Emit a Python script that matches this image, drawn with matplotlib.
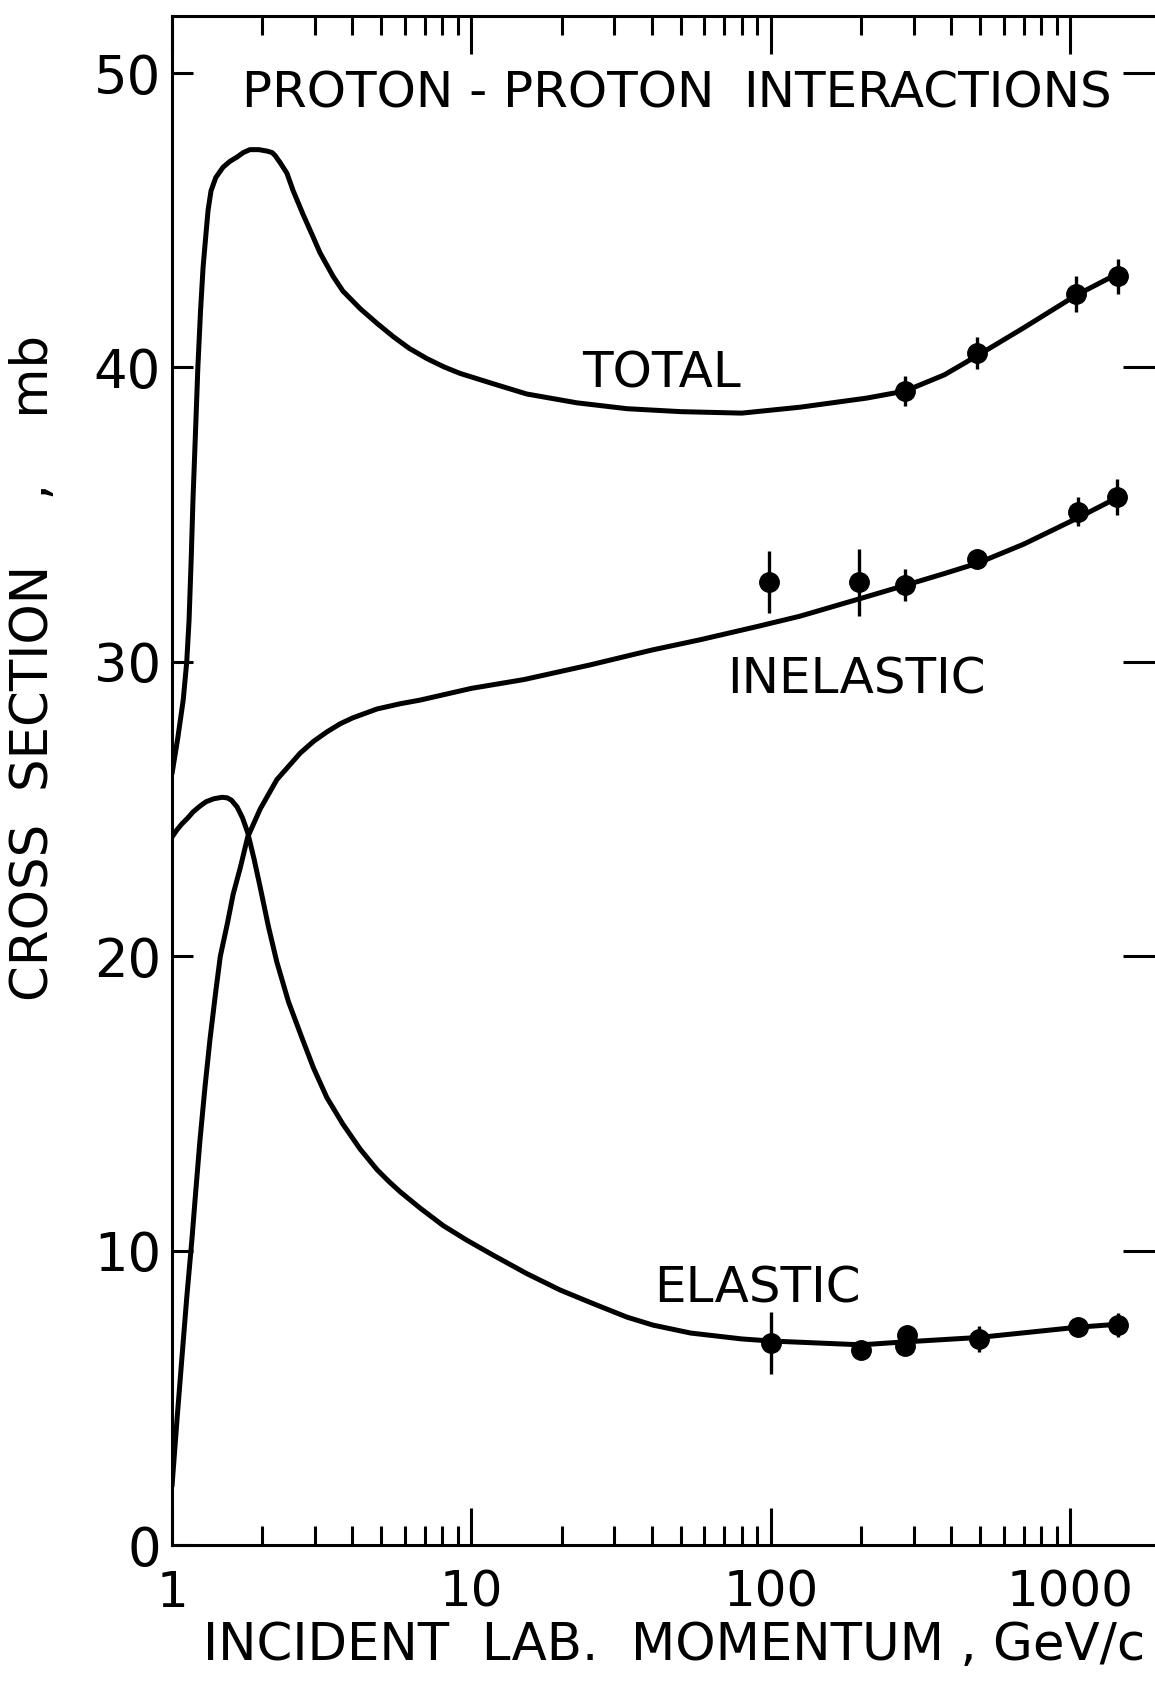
import matplotlib
matplotlib.use("Agg")
import matplotlib.pyplot as plt
from matplotlib.ticker import FixedLocator, NullFormatter, LogLocator
import numpy as np

# Smooth curves read as (momentum GeV/c, cross section mb)
total_p = [1.00, 1.045, 1.09, 1.12, 1.14, 1.16, 1.175, 1.20, 1.22, 1.245, 1.27, 1.30,
           1.32, 1.35, 1.40, 1.48, 1.56, 1.65, 1.73, 1.82, 1.95, 2.08, 2.16, 2.21,
           2.30, 2.42, 2.54, 2.74, 2.97, 3.12, 3.45, 3.72, 4.25, 4.84, 5.48, 6.2, 7.11,
           8.1, 9.16, 11.8, 15.3, 22.5, 33.1, 50, 80, 125, 209, 281, 380, 489, 700,
           1045, 1450]
total_mb = [26.2, 27.4, 28.7, 30.0, 31.4, 33.6, 35.5, 38.0, 40.0, 41.9, 43.4, 44.6,
            45.35, 46.0, 46.45, 46.8, 47.0, 47.15, 47.3, 47.4, 47.4, 47.35, 47.3, 47.2,
            46.95, 46.6, 46.0, 45.2, 44.4, 43.9, 43.1, 42.6, 42.0, 41.5, 41.05, 40.65, 40.3,
            40.02, 39.8, 39.45, 39.1, 38.8, 38.6, 38.5, 38.45, 38.65, 38.96, 39.2, 39.75,
            40.4, 41.35, 42.45, 43.2]

inel_p = [1.00, 1.04, 1.08, 1.12, 1.166, 1.20, 1.24, 1.29, 1.34, 1.40, 1.45, 1.53,
          1.60, 1.69, 1.79, 1.97, 2.24, 2.68, 2.97, 3.29, 3.65, 4.02, 4.84, 5.8, 6.73,
          10, 15, 25, 40, 58, 90, 125, 199, 281, 380, 490, 700, 1065, 1450]
inel_mb = [2.0, 4.3, 6.4, 8.4, 10.4, 12.0, 13.75, 15.6, 17.2, 18.8, 20.0, 21.1,
           22.1, 23.0, 24.05, 25.0, 26.0, 26.9, 27.3, 27.62, 27.9, 28.1, 28.4, 28.58, 28.7,
           29.1, 29.4, 29.9, 30.4, 30.75, 31.2, 31.55, 32.15, 32.6, 33.0, 33.35, 34.0,
           34.9, 35.6]

elas_p = [1.00, 1.04, 1.08, 1.13, 1.175, 1.24, 1.30, 1.38, 1.47, 1.53, 1.58, 1.65,
          1.72, 1.79, 1.88, 1.97, 2.10, 2.24, 2.45, 2.70, 2.97, 3.29, 3.72, 4.25, 4.84,
          5.3, 5.78, 6.73, 8.05, 9.67, 11.8, 15.3, 19.8, 25.5, 33.1, 40.4, 54, 80, 100,
          200, 281, 495, 1065, 1450]
elas_mb = [24.05, 24.3, 24.5, 24.7, 24.9, 25.1, 25.25, 25.35, 25.4, 25.38, 25.3, 25.07,
           24.7, 24.2, 23.3, 22.35, 21.0, 19.8, 18.45, 17.3, 16.2, 15.2, 14.3, 13.45, 12.75,
           12.35, 12.0, 11.45, 10.85, 10.35, 9.85, 9.22, 8.66, 8.2, 7.74, 7.47, 7.2, 7.0,
           6.93, 6.8, 6.9, 7.05, 7.4, 7.5]

# Measured points with vertical errors
total_pts_p = [281, 489, 1045, 1446]
total_pts_mb = [39.2, 40.5, 42.5, 43.1]
total_pts_err = [0.5, 0.55, 0.6, 0.6]

inel_pts_p = [99, 197, 281, 490, 1065, 1430]
inel_pts_mb = [32.7, 32.7, 32.6, 33.5, 35.1, 35.6]
inel_pts_err = [1.05, 1.15, 0.54, 0.0, 0.5, 0.6]

elas_pts_p = [100, 200, 281, 285, 495, 1065, 1446]
elas_pts_mb = [6.86, 6.62, 6.75, 7.15, 7.0, 7.4, 7.47]
elas_pts_err = [1.05, 0.0, 0.3, 0.3, 0.45, 0.0, 0.4]

x_ticks = [1, 10, 100, 1000]
x_tick_labels = ["1", "10", "100", "1000"]
y_ticks = [0, 10, 20, 30, 40, 50]
y_tick_labels = ["0", "10", "20", "30", "40", "50"]

W, H = 1155, 1685
RIGHT = 1165  # frame runs slightly past the page edge
plt.rcParams["font.family"] = "DejaVu Sans"


def main():
    fig = plt.figure(figsize=(W / 100, H / 100), dpi=100)
    ax = fig.add_axes([172 / W, 1 - 1545 / H, (RIGHT - 172) / W, (1545 - 16) / H])

    ax.set_xscale("log")
    ax.set_xlim(1, 10 ** ((RIGHT - 172) / 299.4))
    ax.set_ylim(0, 51.94)

    for s in ["left", "top", "bottom"]:
        ax.spines[s].set_linewidth(2.2)
    ax.spines["right"].set_visible(False)

    line_kw = dict(color="black", lw=3.6, solid_capstyle="round", solid_joinstyle="round")
    ax.plot(total_p, total_mb, **line_kw)
    ax.plot(inel_p, inel_mb, **line_kw)
    ax.plot(elas_p, elas_mb, **line_kw)

    pt_kw = dict(fmt="o", color="black", ms=14, elinewidth=2.4, capsize=0, zorder=5)
    ax.errorbar(total_pts_p, total_pts_mb, yerr=total_pts_err, **pt_kw)
    ax.errorbar(inel_pts_p, inel_pts_mb, yerr=inel_pts_err, **pt_kw)
    ax.errorbar(elas_pts_p, elas_pts_mb, yerr=elas_pts_err, **pt_kw)

    # log axis ticks, inward on top and bottom
    ax.xaxis.set_major_locator(FixedLocator(x_ticks))
    ax.set_xticklabels(x_tick_labels)
    ax.xaxis.set_minor_locator(LogLocator(base=10, subs=np.arange(2, 10)))
    ax.xaxis.set_minor_formatter(NullFormatter())
    ax.tick_params(axis="x", which="major", direction="in", length=27, width=2.2,
                   top=True, bottom=True, labelsize=36, pad=17)
    ax.tick_params(axis="x", which="minor", direction="in", length=14, width=2.2,
                   top=True, bottom=True)

    ax.yaxis.set_major_locator(FixedLocator(y_ticks))
    ax.set_yticklabels(y_tick_labels)
    ax.tick_params(axis="y", which="major", direction="in", length=15, width=2.2,
                   left=True, right=False, labelsize=38, pad=8)

    # right-hand ticks only, no spine on that side
    twin = ax.twinx()
    twin.set_ylim(ax.get_ylim())
    for s in twin.spines.values():
        s.set_visible(False)
    twin.yaxis.set_major_locator(FixedLocator(y_ticks[1:]))
    twin.tick_params(axis="y", direction="in", length=30, width=2.2,
                     right=True, left=False, labelright=False, labelleft=False)

    txt = dict(color="black", fontsize=36)
    ax.text(43.3, 39.33, "TOTAL", ha="center", va="baseline", **txt)
    ax.text(192.6, 28.94, "INELASTIC", ha="center", va="baseline", **txt)
    ax.text(89.9, 8.25, "ELASTIC", ha="center", va="baseline", **txt)

    fig.text(242 / W, 1 - 107 / H, "PROTON - PROTON", ha="left", va="baseline", **txt)
    fig.text(1112 / W, 1 - 107 / H, "INTERACTIONS", ha="right", va="baseline", **txt)

    fig.text(674 / W, 1 - 1660 / H, "INCIDENT  LAB.  MOMENTUM , GeV/c",
             ha="center", va="baseline", color="black", fontsize=37)
    fig.text(34 / W, 1 - 668 / H, "CROSS  SECTION    ,    mb", rotation=90,
             ha="center", va="center", color="black", fontsize=37)

    fig.savefig("out.png", dpi=100, facecolor="white")


if __name__ == "__main__":
    main()
